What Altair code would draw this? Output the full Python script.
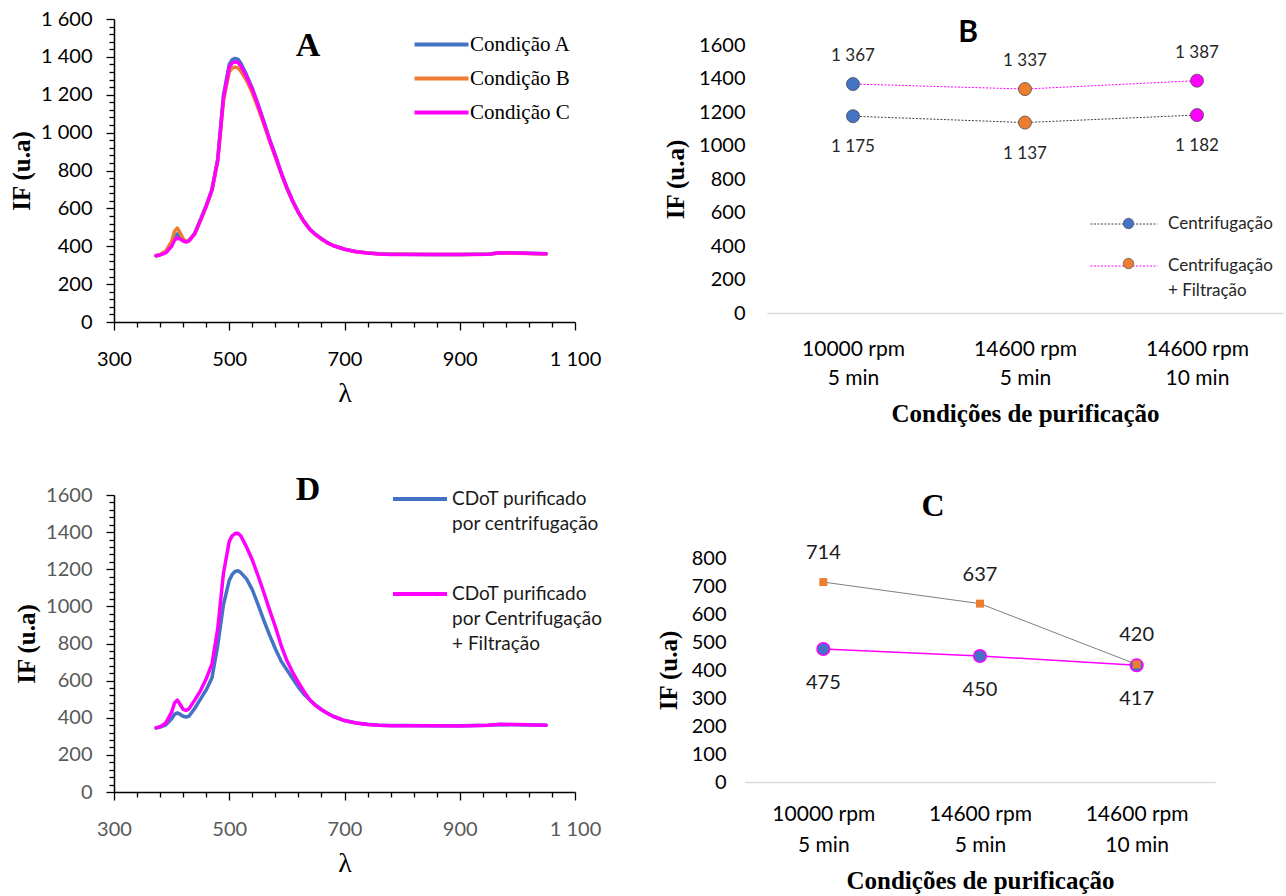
import altair as alt
import pandas as pd

# ---------------- data ----------------
wavelength = [373, 380, 390, 400, 405, 410, 415, 420, 425, 430,
              440, 450, 460, 470, 480, 490, 500, 505, 510, 515,
              520, 530, 540, 550, 560, 570, 580, 590, 600, 610,
              620, 630, 640, 650, 660, 670, 680, 700, 720, 740,
              760, 780, 800, 850, 900, 950, 970, 1000, 1050]

cond_a = [350, 355, 370, 410, 450, 465, 450, 430, 424, 430,
          468, 540, 615, 700, 860, 1200, 1360, 1385, 1392, 1388,
          1368, 1305, 1235, 1150, 1060, 965, 880, 790, 710, 640,
          580, 530, 490, 462, 440, 420, 405, 385, 372, 365,
          360, 358, 358, 357, 356, 359, 366, 364, 360]
cond_b = [350, 356, 375, 425, 480, 496, 470, 440, 426, 430,
          465, 535, 610, 695, 850, 1170, 1320, 1340, 1346, 1342,
          1325, 1275, 1210, 1130, 1045, 955, 870, 785, 705, 636,
          577, 528, 488, 460, 438, 418, 404, 384, 371, 364,
          359, 358, 358, 357, 356, 358, 365, 363, 359]
cond_c = [350, 354, 365, 400, 432, 443, 438, 428, 422, 428,
          465, 538, 612, 698, 855, 1185, 1345, 1368, 1374, 1370,
          1352, 1295, 1228, 1145, 1055, 962, 877, 788, 708, 638,
          578, 529, 489, 461, 439, 419, 404, 384, 371, 364,
          359, 357, 357, 356, 356, 358, 366, 364, 360]

d_centrif = [345, 350, 362, 395, 418, 426, 418, 408, 404, 408,
             450, 500, 550, 615, 790, 1010, 1140, 1172, 1188, 1192,
             1182, 1148, 1090, 1010, 925, 845, 772, 705, 658, 612,
             565, 525, 495, 468, 445, 425, 408, 385, 372, 365,
             360, 358, 358, 357, 357, 359, 364, 362, 360]
d_filt = [345, 352, 372, 430, 480, 495, 470, 445, 440, 448,
          495, 545, 610, 690, 880, 1180, 1350, 1380, 1392, 1394,
          1380, 1320, 1250, 1165, 1075, 980, 890, 790, 708, 645,
          590, 540, 495, 465, 443, 424, 408, 385, 372, 364,
          359, 357, 357, 357, 356, 359, 365, 363, 360]

series_a = ["Condição A", "Condição B", "Condição C"]
series_d = ["CDoT purificado\npor centrifugação",
            "CDoT purificado\npor Centrifugação\n+ Filtração"]

categories = ["10000 rpm\n5 min", "14600 rpm\n5 min", "14600 rpm\n10 min"]
series_b = ["Centrifugação", "Centrifugação\n+ Filtração"]
b_centrif = [1175, 1137, 1182]
b_centrif_filt = [1367, 1337, 1387]

series_c = ["Série quadrados", "Série círculos"]
c_squares = [714, 637, 420]
c_circles = [475, 450, 417]

x_ticks = list(range(300, 1101, 40))
y_ticks_spec = list(range(0, 1601, 40))
b_ticks = list(range(0, 1601, 200))
c_ticks = list(range(0, 801, 100))

# ---------------- style ----------------
SERIF = "Liberation Serif"
SANS = "Lato"
BLUE = "#4472C4"
ORANGE = "#ED7D31"
MAGENTA = "#FF00FF"
SPACE_FMT = "replace(format(datum.value, ','), ',', ' ')"


def x_spec_axis(label_color):
    major = "(datum.value - 300) % 200 == 0"
    return alt.Axis(values=x_ticks,
                    labelExpr=f"{major} ? {SPACE_FMT} : ''",
                    tickSize={"condition": {"test": major, "value": 8}, "value": 5},
                    labelFont=SANS, labelFontSize=20, labelColor=label_color,
                    labelPadding=19, labelOverlap=False, labelFlush=False,
                    domainColor="black", domainWidth=1.5, tickColor="black", tickWidth=1.3,
                    grid=False, title="λ", titleFont=SERIF, titleFontSize=28,
                    titleFontWeight="normal", titleColor="black", titlePadding=10)


def y_spec_axis(label_color, label_expr):
    major = "datum.value % 200 == 0"
    return alt.Axis(values=y_ticks_spec,
                    labelExpr=f"{major} ? {label_expr} : ''",
                    tickSize={"condition": {"test": major, "value": 8}, "value": 5},
                    labelFont=SANS, labelFontSize=20, labelColor=label_color,
                    labelPadding=14, labelOverlap=False,
                    domainColor="black", domainWidth=1.5, tickColor="black", tickWidth=1.3,
                    grid=False, title="IF (u.a)", titleFont=SERIF, titleFontSize=25,
                    titleFontWeight="bold", titleColor="black", titlePadding=6)


def panel_title(text, font, size, dx, dy):
    return alt.TitleParams(text=text, font=font, fontSize=size, fontWeight="bold",
                           color="black", anchor="start", frame="group", align="center",
                           dx=dx, dy=dy, offset=0, baseline="bottom")


def spectrum(df, order, colors, label_color, y_label_expr, legend, title, height):
    x = alt.X("wl:Q", scale=alt.Scale(domain=[300, 1100], nice=False, zero=False),
              axis=x_spec_axis(label_color))
    y = alt.Y("IF:Q", scale=alt.Scale(domain=[0, 1600], nice=False),
              axis=y_spec_axis(label_color, y_label_expr))
    color = alt.Color("serie:N", scale=alt.Scale(domain=order, range=colors), legend=legend)
    layers = [alt.Chart(df).transform_filter(alt.FieldEqualPredicate(field="serie", equal=s))
              .mark_line(strokeWidth=3.5, strokeCap="round", strokeJoin="round")
              .encode(x=x, y=y, color=color)
              for s in order]
    return alt.layer(*layers).properties(width=461, height=height, title=title)


# ---------------- panel A ----------------
n = len(wavelength)
dfA = pd.DataFrame({"wl": wavelength * 3,
                    "IF": cond_a + cond_b + cond_c,
                    "serie": [series_a[0]] * n + [series_a[1]] * n + [series_a[2]] * n})
legA = alt.Legend(title=None, orient="none", legendX=304, legendY=2, padding=0,
                  symbolType="M-1.256,0L1.256,0", symbolSize=1849, symbolStrokeWidth=4,
                  symbolDash=[1, 0], labelFont=SERIF, labelFontSize=21, labelColor="black",
                  labelOffset=5, rowPadding=0, labelLimit=300)
chartA = spectrum(dfA, series_a, [BLUE, ORANGE, MAGENTA], "black", SPACE_FMT, legA,
                  panel_title("A", SERIF, 34, 194, 88), 303)

# ---------------- panel D ----------------
dfD = pd.DataFrame({"wl": wavelength * 2,
                    "IF": d_centrif + d_filt,
                    "serie": [series_d[0]] * n + [series_d[1]] * n})
legD = alt.Legend(title=None, orient="none", legendX=277, legendY=-25, padding=0,
                  symbolType="stroke", symbolSize=2916, symbolStrokeWidth=4, symbolDash=[1, 0],
                  labelFont=SANS, labelFontSize=19, labelColor="#1a1a1a", labelOffset=3,
                  rowPadding=31, labelLimit=300, labelExpr="split(datum.label, '\\n')")
chartD = spectrum(dfD, series_d, [BLUE, MAGENTA], "#595959", "format(datum.value, 'd')", legD,
                  panel_title("D", SERIF, 34, 194, 71), 297)


# ---------------- category panels ----------------
def cat_axis(label_padding, line_height, title_padding):
    return alt.Axis(labelExpr="split(datum.label, '\\n')", labelAngle=0, ticks=False,
                    domainColor="#D9D9D9", domainWidth=1.5, grid=False,
                    labelFont=SANS, labelFontSize=21, labelColor="black",
                    labelPadding=label_padding, labelLineHeight=line_height,
                    title="Condições de purificação", titleFont=SERIF, titleFontSize=25,
                    titleFontWeight="bold", titleColor="black", titlePadding=title_padding)


def val_axis(values, label_padding, title_padding):
    return alt.Axis(values=values, format="d", ticks=False, domain=False, grid=False,
                    labelFont=SANS, labelFontSize=20, labelColor="black",
                    labelPadding=label_padding,
                    title="IF (u.a)", titleFont=SERIF, titleFontSize=25,
                    titleFontWeight="bold", titleColor="black", titlePadding=title_padding)


# ---------------- panel B ----------------
dfB = pd.DataFrame({"cat": categories * 2,
                    "IF": b_centrif + b_centrif_filt,
                    "serie": [series_b[0]] * 3 + [series_b[1]] * 3})
xB = alt.X("cat:N", sort=categories, scale=alt.Scale(domain=categories, range=[22, 538]),
           axis=cat_axis(25, 29, 13))
yB = alt.Y("IF:Q", scale=alt.Scale(domain=[0, 1600], range=[294, 26]), axis=val_axis(b_ticks, 0, 10))
baseB = alt.Chart(dfB)
lineB = baseB.mark_line(strokeWidth=1, strokeDash=[2, 1.5]).encode(
    x=xB, y=yB,
    color=alt.Color("serie:N", scale=alt.Scale(domain=series_b, range=["#404040", MAGENTA]),
                    legend=alt.Legend(title=None, orient="none", legendX=345, legendY=171, padding=0,
                                      symbolType="stroke", symbolSize=4489, symbolStrokeWidth=1,
                                      symbolDash=[2, 1.5], labelFont=SANS, labelFontSize=17,
                                      labelColor="#262626", labelOffset=10, rowPadding=-3,
                                      labelLimit=300, labelExpr="split(datum.label, '\\n')")))
legPtsB = baseB.mark_circle(size=90, opacity=1).encode(
    x=xB, y=yB,
    fill=alt.Fill("serie:N", scale=alt.Scale(domain=series_b, range=[BLUE, ORANGE]),
                  legend=alt.Legend(title=None, orient="none", legendX=375, legendY=196, padding=0,
                                    symbolType="circle", symbolSize=110, symbolStrokeColor="#404040",
                                    symbolStrokeWidth=0.6, labelFontSize=17, labelOffset=0,
                                    rowPadding=22, labelExpr="''")))
ptsB = baseB.mark_circle(size=170, opacity=1, stroke="#404040", strokeWidth=0.7).encode(
    x=xB, y=yB,
    fill=alt.Fill("cat:N", scale=alt.Scale(domain=categories, range=[BLUE, ORANGE, MAGENTA]), legend=None))
lbl = "replace(format(datum.IF, ','), ',', ' ')"
txtB_top = baseB.transform_filter(alt.FieldEqualPredicate(field="serie", equal=series_b[1])) \
    .transform_calculate(lbl=lbl) \
    .mark_text(dy=-28, font=SANS, fontSize=17, color="#262626") \
    .encode(x=xB, y=yB, text="lbl:N")
txtB_bot = baseB.transform_filter(alt.FieldEqualPredicate(field="serie", equal=series_b[0])) \
    .transform_calculate(lbl=lbl) \
    .mark_text(dy=31, font=SANS, fontSize=17, color="#262626") \
    .encode(x=xB, y=yB, text="lbl:N")
chartB = alt.layer(lineB, legPtsB, ptsB, txtB_top, txtB_bot).resolve_scale(fill="independent") \
    .properties(width=538, height=294, title=panel_title("B", SANS, 30, 223, 59))

# ---------------- panel C ----------------
dfC = pd.DataFrame({"cat": categories * 2,
                    "IF": c_squares + c_circles,
                    "serie": [series_c[0]] * 3 + [series_c[1]] * 3})
xC = alt.X("cat:N", sort=categories, scale=alt.Scale(domain=categories), axis=cat_axis(21, 31, 13))
yC = alt.Y("IF:Q", scale=alt.Scale(domain=[0, 800], range=[287, 63]), axis=val_axis(c_ticks, 19, 10))
sq = alt.Chart(dfC).transform_filter(alt.FieldEqualPredicate(field="serie", equal=series_c[0]))
ci = alt.Chart(dfC).transform_filter(alt.FieldEqualPredicate(field="serie", equal=series_c[1]))
lineCi = ci.mark_line(strokeWidth=1.5, color=MAGENTA).encode(x=xC, y=yC)
ptsCi = ci.mark_circle(size=160, opacity=1, color=BLUE, stroke=MAGENTA, strokeWidth=1.5).encode(x=xC, y=yC)
lineSq = sq.mark_line(strokeWidth=1, color="#7F7F7F").encode(x=xC, y=yC)
ptsSq = sq.mark_square(size=64, opacity=1, color=ORANGE).encode(x=xC, y=yC)
txtSq = sq.mark_text(dy=-29, font=SANS, fontSize=20, color="#1a1a1a").encode(x=xC, y=yC, text="IF:Q")
txtCi = ci.mark_text(dy=34, font=SANS, fontSize=20, color="#1a1a1a").encode(x=xC, y=yC, text="IF:Q")
chartC = alt.layer(lineCi, ptsCi, lineSq, ptsSq, txtSq, txtCi) \
    .properties(width=470, height=287, title=panel_title("C", SERIF, 32, 188, 60))

# ---------------- layout ----------------
chart = alt.concat(chartA, chartB, chartD, chartC, columns=2, bounds="flush",
                   spacing={"row": 173, "column": 170}) \
    .resolve_scale(color="independent", fill="independent") \
    .properties(padding={"left": 9, "top": 9, "right": 2, "bottom": 2}, background="white") \
    .configure(style={"guide-label": {"lineHeight": 25}}) \
    .configure_view(stroke=None)

chart.save("out.html", embed_options={"renderer": "svg", "actions": False})
